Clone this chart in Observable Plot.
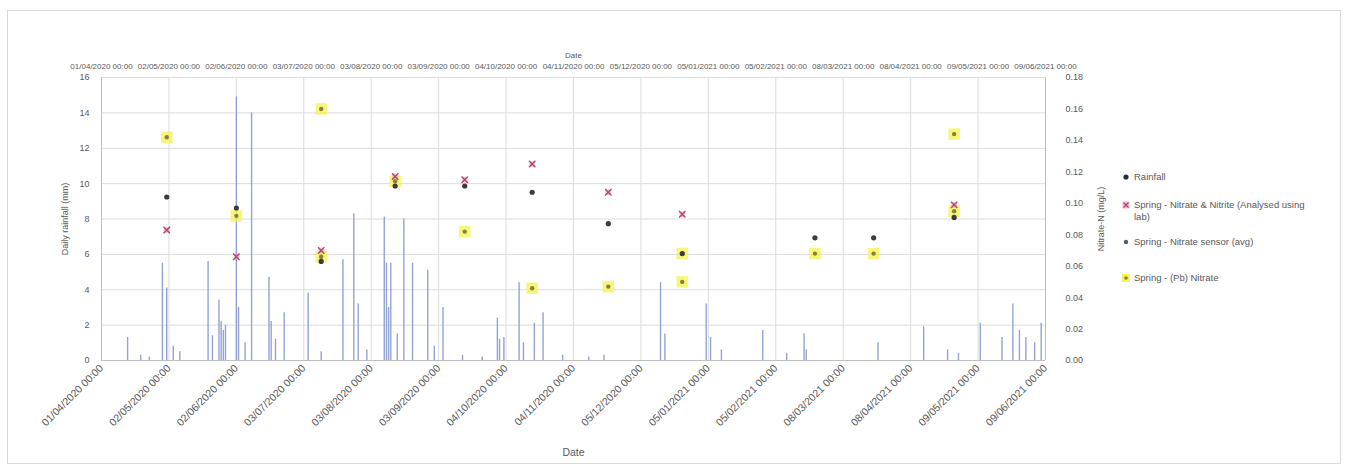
<!DOCTYPE html>
<html><head><meta charset="utf-8">
<script src="https://cdn.jsdelivr.net/npm/d3@7"></script>
<script src="https://cdn.jsdelivr.net/npm/@observablehq/plot@0.6"></script>
<style>
body{margin:0;background:#fff;font-family:"Liberation Sans",Arial,sans-serif;}
#wrap{position:relative;width:1347px;height:465px;overflow:hidden}
#frame{position:absolute;left:7px;top:10px;width:1332px;height:452px;border:1px solid #d9d9d9;pointer-events:none}
#legend{position:absolute;left:1122px;top:168px;font-size:9.5px;color:#595959;width:205px;line-height:12px}
.li{display:flex;align-items:flex-start;margin-bottom:0}
.li svg{flex:none;margin-right:4px;margin-top:2px}
</style></head>
<body><div id="wrap"><div id="frame"></div><div id="chart"></div><div id="legend"></div></div>
<script>
// x-axis tick dates (top and bottom axis)
const tickDates = ["2020-04-01","2020-05-02","2020-06-02","2020-07-03","2020-08-03","2020-09-03","2020-10-04","2020-11-04","2020-12-05","2021-01-05","2021-02-05","2021-03-08","2021-04-08","2021-05-09","2021-06-09"];
// left axis (rainfall, mm) and right axis (nitrate) tick values
const leftTicks = [0,2,4,6,8,10,12,14,16];
const rightTicks = [0,0.02,0.04,0.06,0.08,0.10,0.12,0.14,0.16,0.18];

// Rainfall
const rainDates = ["2020-04-13","2020-04-19","2020-04-23","2020-04-29","2020-05-01","2020-05-04","2020-05-07","2020-05-20","2020-05-22","2020-05-25","2020-05-26","2020-05-27","2020-05-28","2020-06-02","2020-06-03","2020-06-06","2020-06-09","2020-06-17","2020-06-18","2020-06-20","2020-06-24","2020-07-05","2020-07-11","2020-07-21","2020-07-26","2020-07-28","2020-08-01","2020-08-09","2020-08-10","2020-08-11","2020-08-12","2020-08-15","2020-08-18","2020-08-22","2020-08-29","2020-09-01","2020-09-05","2020-09-14","2020-09-23","2020-09-30","2020-10-01","2020-10-03","2020-10-10","2020-10-12","2020-10-17","2020-10-21","2020-10-30","2020-11-11","2020-11-18","2020-12-14","2020-12-16","2021-01-04","2021-01-06","2021-01-11","2021-01-30","2021-02-10","2021-02-18","2021-02-19","2021-03-24","2021-04-14","2021-04-25","2021-04-30","2021-05-10","2021-05-20","2021-05-25","2021-05-28","2021-05-31","2021-06-04","2021-06-07"];
const rainMm = [1.3,0.3,0.2,5.5,4.1,0.8,0.5,5.6,1.4,3.4,2.2,1.7,2.0,14.9,3.0,1.0,14.0,4.7,2.2,1.2,2.7,3.8,0.5,5.7,8.3,3.2,0.6,8.1,5.5,3.0,5.5,1.5,8.0,5.5,5.1,0.8,3.0,0.3,0.2,2.4,1.2,1.3,4.4,1.0,2.1,2.7,0.3,0.2,0.3,4.4,1.5,3.2,1.3,0.6,1.7,0.4,1.5,0.6,1.0,1.9,0.6,0.4,2.1,1.3,3.2,1.7,1.3,1.0,2.1];

// Spring - Nitrate & Nitrite (lab)
const labDates = ["2020-05-01","2020-06-02","2020-07-11","2020-08-14","2020-09-15","2020-10-16","2020-11-20","2020-12-24","2021-04-28"];
const labNitrate = [0.083,0.066,0.070,0.117,0.115,0.125,0.107,0.093,0.099];
// Spring - Nitrate sensor
const sensorDates = ["2020-05-01","2020-06-02","2020-07-11","2020-08-14","2020-09-15","2020-10-16","2020-11-20","2020-12-24","2021-02-23","2021-03-22","2021-04-28"];
const sensorNitrate = [0.104,0.097,0.063,0.111,0.111,0.107,0.087,0.068,0.078,0.078,0.091];
// Spring - (Pb) Nitrate
const pbDates = ["2020-05-01","2020-06-02","2020-07-11","2020-07-11","2020-08-14","2020-09-15","2020-10-16","2020-11-20","2020-12-24","2020-12-24","2021-02-23","2021-03-22","2021-04-28","2021-04-28"];
const pbNitrate = [0.142,0.092,0.160,0.066,0.114,0.082,0.046,0.047,0.068,0.050,0.068,0.068,0.144,0.095];

const legendNames = ["Rainfall","Spring - Nitrate & Nitrite (Analysed using lab)","Spring - Nitrate sensor (avg)","Spring - (Pb) Nitrate"];

const leftMax = leftTicks[leftTicks.length-1];
const rightMax = rightTicks[rightTicks.length-1];
const toLeft = v => v * leftMax / rightMax;
const D = s => new Date(s + "T00:00:00Z");
const fmt = d3.utcFormat("%d/%m/%Y %H:%M");

const rain = rainDates.map((d,i)=>({date:D(d), mm:rainMm[i]}));
const lab = labDates.map((d,i)=>({date:D(d), v:toLeft(labNitrate[i])}));
const sensor = sensorDates.map((d,i)=>({date:D(d), v:toLeft(sensorNitrate[i])}));
const pb = pbDates.map((d,i)=>({date:D(d), v:toLeft(pbNitrate[i])}));
const ticks = tickDates.map(D);

const grid = "#dcdcdc", txt = "#595959";

const chart = Plot.plot({
  width:1347, height:465,
  marginLeft:101, marginRight:302, marginTop:77, marginBottom:105,
  style:{fontFamily:"'Liberation Sans', Arial, sans-serif", fontSize:"8px", color:txt, background:"transparent"},
  x:{type:"utc", domain:[ticks[0], ticks[ticks.length-1]]},
  y:{domain:[0,leftMax]},
  marks:[
    Plot.gridX(ticks, {stroke:grid, strokeOpacity:1}),
    Plot.gridY(leftTicks, {stroke:grid, strokeOpacity:1}),
    Plot.ruleX([ticks[0], ticks[ticks.length-1]], {stroke:"#bfbfbf"}),
    Plot.ruleY([0], {stroke:"#bfbfbf"}),
    Plot.ruleX(rain, {x:"date", y1:0, y2:"mm", stroke:"#8799cf", strokeWidth:1.4, strokeOpacity:0.9}),
    Plot.dot(pb, {x:"date", y:"v", symbol:"square", r:6.5, fill:"#f5f25a", fillOpacity:0.8}),
    Plot.dot(pb, {x:"date", y:"v", r:2.2, fill:"#86823a"}),
    Plot.dot(lab, {x:"date", y:"v", symbol:"square", r:3.2, fill:"#e6a1b4", fillOpacity:0.6}),
    Plot.dot(lab, {x:"date", y:"v", symbol:"times", r:3, stroke:"#b8466a", strokeWidth:1.4}),
    Plot.dot(sensor, {x:"date", y:"v", r:2.6, fill:"#3c3c3c"}),
    Plot.axisY(leftTicks, {anchor:"left", tickSize:0, tickPadding:12, fontSize:9, label:"Daily rainfall (mm)", labelAnchor:"center", labelArrow:"none", labelOffset:40}),
    Plot.axisY(rightTicks.map(toLeft), {anchor:"right", tickSize:0, tickPadding:20, fontSize:9, tickFormat:d=>(d*rightMax/leftMax).toFixed(2), label:"Nitrate-N (mg/L)", labelAnchor:"center", labelArrow:"none", labelOffset:58}),
    Plot.axisX(ticks, {anchor:"top", tickSize:0, tickPadding:9, fontSize:8, tickFormat:fmt, label:"Date", labelAnchor:"center", labelArrow:"none", labelOffset:25}),
    Plot.axisX(ticks, {anchor:"bottom", tickSize:0, tickPadding:6, fontSize:10.5, tickRotate:-45, tickFormat:fmt, label:"Date", labelAnchor:"center", labelArrow:"none", labelOffset:95})
  ]
});
document.getElementById("chart").appendChild(chart);

// Legend
const markers = [
  '<svg width="8" height="8"><circle cx="4" cy="4" r="2.6" fill="#2d2d2d"/></svg>',
  '<svg width="8" height="8"><rect x="0.5" y="0.5" width="7" height="7" fill="#e6a1b4" fill-opacity="0.7"/><path d="M1.5 1.5L6.5 6.5M6.5 1.5L1.5 6.5" stroke="#b8466a" stroke-width="1.3"/></svg>',
  '<svg width="8" height="8"><circle cx="4" cy="4" r="2.2" fill="#5a5a5a"/></svg>',
  '<svg width="8" height="8"><rect x="0" y="0" width="8" height="8" fill="#f5f25a"/><circle cx="4" cy="4" r="1.8" fill="#86823a"/></svg>'
];
const tops = [3, 31, 68, 104];
const lg = document.getElementById("legend");
legendNames.forEach((n,i)=>{
  const el = document.createElement("div");
  el.className = "li";
  el.style.position = "absolute"; el.style.top = tops[i] + "px"; el.style.width = "200px";
  el.innerHTML = markers[i] + "<span>" + n + "</span>";
  lg.appendChild(el);
});
</script></body></html>
